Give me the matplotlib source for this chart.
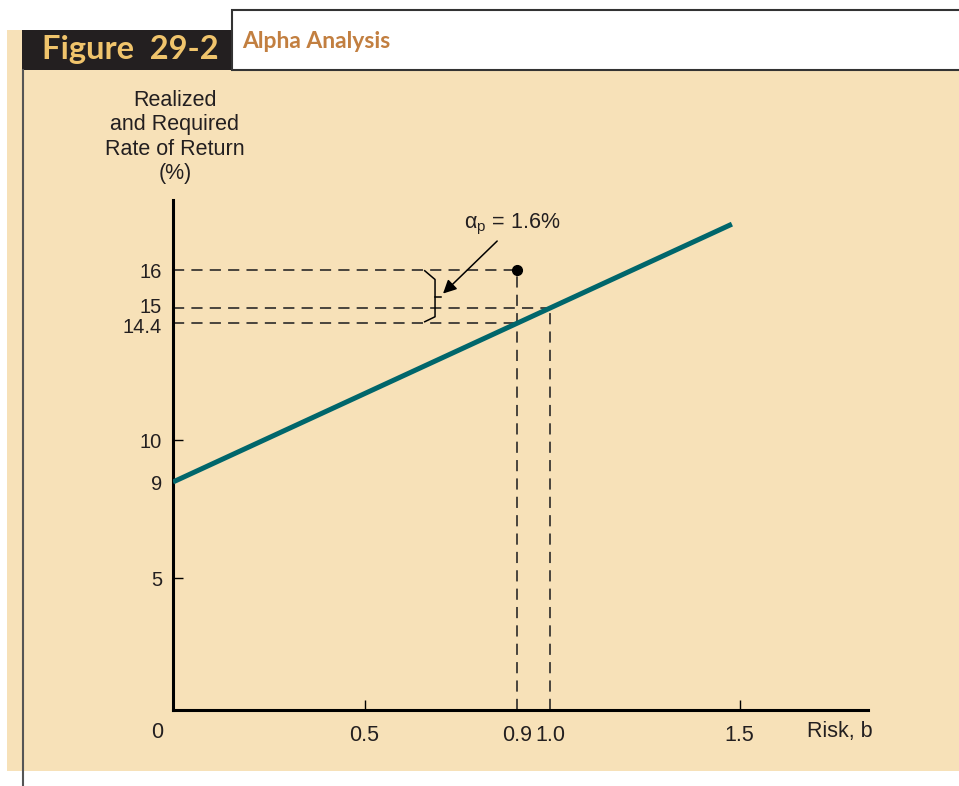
import numpy as np
import matplotlib.pyplot as plt
from matplotlib.patches import Rectangle
from matplotlib.lines import Line2D
from matplotlib.transforms import ScaledTranslation

# Security market line (beta, required return %)
sml_beta = [0.0, 1.48]
sml_return = [9.0, 17.9]

# Portfolio point
port_beta = 0.9
port_return = 16.0
# Required return at the portfolio beta and at market beta
req_at_port = 14.4
market_beta = 1.0
market_return = 15.0

x_ticks = [0.5, 0.9, 1.0, 1.5]
x_labels = ["0.5", "0.9", "1.0", "1.5"]
y_ticks = [5, 9, 10, 14.4, 15, 16]
y_labels = ["5", "9", "10", "14.4", "15", "16"]

# The textbook drawing is not to scale: spacing of the axis marks as drawn
x_marks = [0, 0.5, 0.9, 1.0, 1.5, 1.84]
x_drawn = [0, 191.5, 344, 377, 566.5, 695]
y_marks = [0, 5, 9, 10, 14.4, 15, 16, 18.9]
y_drawn = [0, 132, 228, 270, 387, 402, 440, 510]

beige = "#F7E1B8"
teal = "#00666B"
ink = "#231F20"
fs = 15.5

plt.rcParams['font.family'] = ['Liberation Sans', 'DejaVu Sans']
plt.rcParams['mathtext.fontset'] = 'custom'
plt.rcParams['mathtext.rm'] = 'Liberation Sans'

W, H = 959, 786
fig = plt.figure(figsize=(W / 100, H / 100), dpi=100, facecolor="white")

def fx(px):
    return px / W

def fy(py):
    return 1 - py / H

# Page decoration (behind the axes)
fig.patches.append(Rectangle((fx(7), fy(771)), fx(959 - 7), (771 - 30) / H,
                             transform=fig.transFigure, facecolor=beige,
                             edgecolor="none", zorder=-3))
fig.patches.append(Rectangle((fx(22), fy(70)), fx(232 - 22), 40 / H,
                             transform=fig.transFigure, facecolor=ink,
                             edgecolor="none", zorder=-2))
fig.patches.append(Rectangle((fx(232), fy(70)), fx(740), 60 / H,
                             transform=fig.transFigure, facecolor="white",
                             edgecolor="#333333", linewidth=1.5, zorder=-2))
fig.lines.append(Line2D([fx(22.5), fx(22.5)], [fy(70), 0], transform=fig.transFigure,
                        color="#555555", linewidth=1.5, zorder=-1))
fig.text(fx(42), fy(49), "Figure  29-2", color="#F0C46C", fontsize=23.5,
         fontweight="bold", family=["Lato", "DejaVu Sans"], va="center", ha="left")
fig.text(fx(242), fy(41), "Alpha Analysis", color="#C27F40", fontsize=16.5,
         fontweight="bold", family=["Lato", "DejaVu Sans"], va="center", ha="left")

ax = fig.add_axes([fx(173), fy(710), fx(868 - 173), (710 - 200) / H])
ax.set_zorder(2)
ax.set_facecolor("none")
ax.set_xscale("function", functions=(lambda v: np.interp(v, x_marks, x_drawn),
                                     lambda p: np.interp(p, x_drawn, x_marks)))
ax.set_yscale("function", functions=(lambda v: np.interp(v, y_marks, y_drawn),
                                     lambda p: np.interp(p, y_drawn, y_marks)))
ax.set_xlim(0, 1.84)
ax.set_ylim(0, 18.9)
for s in ["top", "right"]:
    ax.spines[s].set_visible(False)
for s in ["left", "bottom"]:
    ax.spines[s].set_linewidth(2.2)
    ax.spines[s].set_color("black")

# SML
ax.plot(sml_beta, sml_return, color=teal, linewidth=3.6, solid_capstyle="butt", zorder=3)

# Dashed guides
dash = dict(color="#222222", linewidth=1.15, linestyle=(0, (7, 4.5)), zorder=2)
ax.plot([0, port_beta], [port_return, port_return], **dash)
ax.plot([0, market_beta], [market_return, market_return], **dash)
ax.plot([0, port_beta], [req_at_port, req_at_port], **dash)
ax.plot([port_beta, port_beta], [0, port_return], **dash)
ax.plot([market_beta, market_beta], [0, market_return], **dash)

# Portfolio point
ax.plot([port_beta], [port_return], "o", color="black", markersize=7, zorder=4)

# Brace between 14.4 and 16
mid = 15.3
ax.plot([0.658, 0.685, 0.685, 0.658], [port_return - 0.02, 15.75, 14.65, req_at_port + 0.05],
        color="black", linewidth=1.1)
ax.plot([0.685, 0.70], [mid, mid], color="black", linewidth=1.1)

ax.annotate("", xy=(0.706, 15.38), xytext=(0.848, 17.2),
            arrowprops=dict(arrowstyle="-|>", color="black", lw=1.1,
                            mutation_scale=20, shrinkA=0, shrinkB=0))
ax.text(0.888, 17.87, r"α$_\mathrm{p}$ = 1.6%", fontsize=fs, ha="center",
        va="center", color=ink)

# Ticks
ax.set_xticks(x_ticks)
ax.set_xticklabels(x_labels)
ax.set_yticks(y_ticks)
ax.set_yticklabels(y_labels)
ax.minorticks_off()
ax.tick_params(axis="both", direction="in", length=7, width=1.0, labelsize=fs,
               labelcolor=ink)
ax.tick_params(axis="y", labelsize=14.5, pad=8)
ax.tick_params(axis="x", pad=11)
for i, t in enumerate(ax.xaxis.get_major_ticks()):
    if x_ticks[i] in (0.9, 1.0):
        t.tick1line.set_visible(False)
# the 15 and 14.4 labels sit very close, as in the original: nudge them apart
nudge = {15: 2 / 72, 14.4: -2 / 72}
for i, t in enumerate(ax.yaxis.get_major_ticks()):
    if y_ticks[i] not in (5, 10):
        t.tick1line.set_visible(False)
    if y_ticks[i] in nudge:
        t.label1.set_transform(t.label1.get_transform() +
                               ScaledTranslation(0, nudge[y_ticks[i]], fig.dpi_scale_trans))

fig.text(fx(157), fy(732), "0", fontsize=fs, ha="center", va="center", color=ink)
fig.text(fx(840), fy(732), "Risk, b", fontsize=fs, ha="center", va="center", color=ink)
fig.text(fx(175), fy(137), "Realized\nand Required\nRate of Return\n(%)", fontsize=fs,
         ha="center", va="center", linespacing=1.22, color=ink)

fig.savefig("out.png", dpi=100, facecolor="white")
